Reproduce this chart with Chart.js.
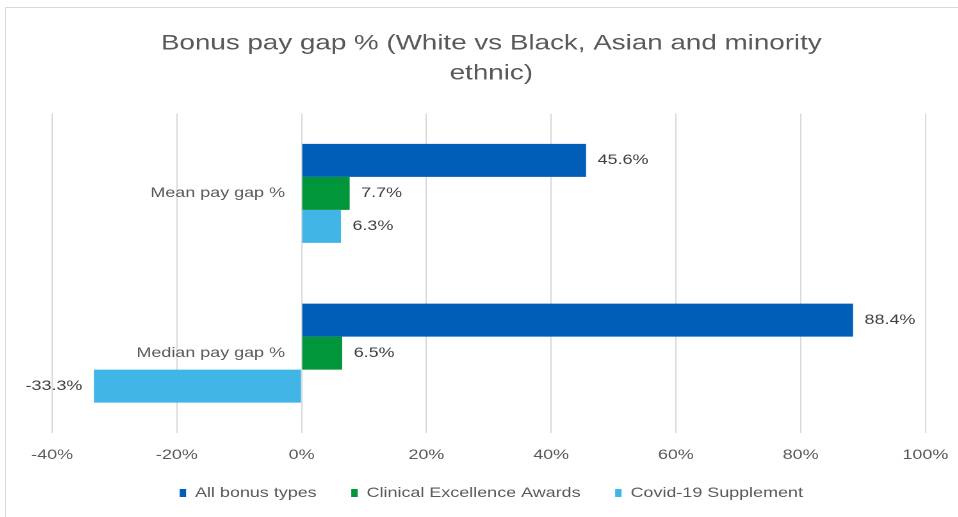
<!DOCTYPE html>
<html>
<head>
<meta charset="utf-8">
<script src="https://cdn.jsdelivr.net/npm/chart.js@4"></script>
<style>
  html, body { margin: 0; padding: 0; background: #fff; overflow: hidden; }
  #frame {
    position: absolute; left: 5px; top: 7px;
    width: 972px; height: 512px;
    border: 1px solid #d9d9d9; box-sizing: border-box;
    overflow: hidden;
  }
  /* the chart is drawn narrower and widened, giving the wide lettering */
  #box {
    position: absolute; left: 0; top: 0;
    width: 757.8px; height: 510px;
    transform: scaleX(1.28); transform-origin: 0 0;
  }
</style>
</head>
<body>
<div id="frame"><div id="box"><canvas id="gapChart"></canvas></div></div>
<script>
  const categories = ["Mean pay gap %", "Median pay gap %"];
  const allBonus = [45.6, 88.4];
  const clinicalAwards = [7.7, 6.5];
  const covidSupplement = [6.3, -33.3];
  const seriesNames = ["All bonus types", "Clinical Excellence Awards", "Covid-19 Supplement"];
  const seriesColors = ["#005EB8", "#009639", "#41B6E6"];
  const xTicks = [-40, -20, 0, 20, 40, 60, 80, 100];

  const FONT = "'Liberation Sans', Arial, sans-serif";

  // bar values, category names beside the zero line, and the % ticks under the plot
  const chartText = {
    id: "chartText",
    afterDraw(chart) {
      const ctx = chart.ctx;
      const { x, y } = chart.scales;
      ctx.save();
      ctx.font = "14px " + FONT;
      ctx.textBaseline = "middle";

      ctx.fillStyle = "#404040";
      chart.data.datasets.forEach((ds, i) => {
        chart.getDatasetMeta(i).data.forEach((bar, j) => {
          const v = ds.data[j];
          const text = v.toFixed(1) + "%";
          if (v >= 0) {
            ctx.textAlign = "left";
            ctx.fillText(text, bar.x + 9, bar.y);
          } else {
            ctx.textAlign = "right";
            ctx.fillText(text, bar.x - 9, bar.y);
          }
        });
      });

      ctx.fillStyle = "#595959";
      ctx.textAlign = "right";
      const x0 = x.getPixelForValue(0);
      chart.data.labels.forEach((name, i) => {
        ctx.fillText(name, x0 - 13, y.getPixelForTick(i));
      });

      ctx.textAlign = "center";
      xTicks.forEach(v => {
        ctx.fillText(v + "%", x.getPixelForValue(v), chart.chartArea.bottom + 22);
      });
      ctx.restore();
    }
  };

  const datasets = [allBonus, clinicalAwards, covidSupplement].map((data, i) => ({
    label: seriesNames[i],
    data,
    backgroundColor: seriesColors[i],
    borderWidth: 0,
    barPercentage: 1,
    categoryPercentage: 0.62
  }));

  new Chart(document.getElementById("gapChart"), {
    type: "bar",
    data: { labels: categories, datasets },
    options: {
      indexAxis: "y",
      responsive: true,
      maintainAspectRatio: false,
      devicePixelRatio: 2,
      animation: false,
      layout: { padding: { left: 0, right: 0, bottom: 8 } },
      plugins: {
        title: {
          display: true,
          text: ["Bonus pay gap % (White vs Black, Asian and minority", "ethnic)"],
          color: "#595959",
          font: { family: FONT, size: 21.7, weight: "normal", lineHeight: 1.3825 },
          padding: { top: 20.5, bottom: 25 }
        },
        legend: {
          position: "bottom",
          labels: {
            boxWidth: 5,
            boxHeight: 8,
            padding: 27,
            color: "#595959",
            font: { family: FONT, size: 14 }
          }
        },
        tooltip: { enabled: false }
      },
      scales: {
        x: {
          min: xTicks[0],
          max: xTicks[xTicks.length - 1],
          afterBuildTicks: axis => { axis.ticks = xTicks.map(value => ({ value })); },
          // room under the plot for the % labels, and side margins of the plot
          afterFit: axis => {
            axis.height = 26;
            axis.paddingLeft = 36;
            axis.paddingRight = 40;
          },
          ticks: { display: false },
          grid: { color: "#d9d9d9", drawTicks: false },
          border: { display: false }
        },
        y: {
          position: { x: 0 },
          ticks: { display: false },
          grid: { display: false, drawTicks: false },
          border: { display: false }
        }
      }
    },
    plugins: [chartText]
  });
</script>
</body>
</html>
